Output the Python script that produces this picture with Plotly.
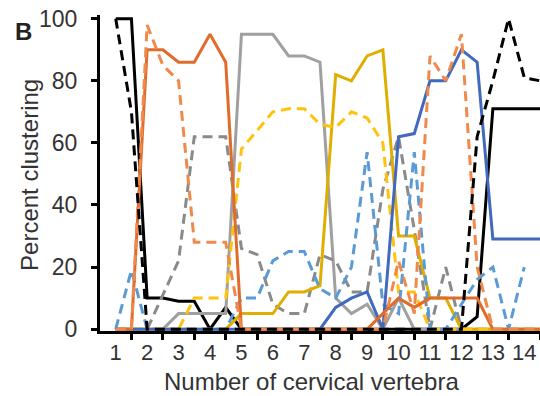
import plotly.graph_objects as go

# x positions (half-vertebra steps)
x_pos = [1, 1.5, 2, 2.5, 3, 3.5, 4, 4.5, 5, 5.5, 6, 6.5, 7, 7.5,
         8, 8.5, 9, 9.5, 10, 10.5, 11, 11.5, 12, 12.5, 13, 13.5, 14, 14.5]

x_tick_labels = [str(i) for i in range(1, 15)]
y_tick_vals = [0, 20, 40, 60, 80, 100]

black_solid = [100, 100, 10, 10, 9, 9, 0, 7, 0, 0, 0, 0, 0, 0,
               0, 0, 0, 0, 0, 0, 0, 0, 0, 4, 71, 71, 71, 71]
black_dashed = [100, 70, 0, 0, 0, 0, 0, 0, 0, 0, 0, 0, 0, 0,
                0, 0, 0, 0, 0, 0, 0, 0, 0, 62, 80, 100, 81, 80]
orange_solid = [0, 0, 90, 90, 86, 86, 95, 86, 0, 0, 0, 0, 0, 0,
                0, 0, 0, 5, 10, 7, 10, 10, 10, 10, 0, 0, 0, 0]
orange_dashed = [0, 0, 98, 85, 80, 28, 28, 28, 0, 0, 0, 0, 0, 0,
                 0, 0, 0, 0, 22, 5, 88, 80, 95, 20, 0, 0, 0, 0]
gray_solid = [0, 0, 0, 0, 5, 5, 5, 5, 95, 95, 95, 88, 88, 86,
              10, 5, 8, 0, 10, 0, 0, 0, 0, 0, 0, 0, 0, 0]
gray_dashed = [0, 0, 0, 11, 22, 62, 62, 62, 26, 24, 8, 5, 5, 24,
               22, 12, 12, 45, 62, 32, 0, 20, 0, 0, 0, 0, 0, 0]
yellow_solid = [0, 0, 0, 0, 0, 0, 0, 0, 5, 5, 5, 12, 12, 14,
                82, 80, 88, 90, 30, 30, 10, 10, 0, 0, 0, 0, 0, 0]
yellow_dashed = [0, 0, 0, 0, 0, 10, 10, 10, 58, 64, 70, 71, 71, 66,
                 65, 70, 68, 60, 12, 12, 0, 0, 0, 0, 0, 0, 0, 0]
lightblue_dashed = [0, 19, 0, 0, 0, 0, 0, 0, 10, 10, 22, 25, 25, 13,
                    10, 20, 57, 8, 5, 57, 0, 0, 8, 16, 20, 0, 20, None]
darkblue_solid = [0, 0, 0, 0, 0, 0, 0, 0, 0, 0, 0, 0, 0, 0,
                  7, 10, 12, 0, 62, 63, 80, 80, 90, 86, 29, 29, 29, 29]

DASH = "10px,6px"
series = [
    (black_solid, "#000000", "solid"),
    (gray_solid, "#A0A0A0", "solid"),
    (gray_dashed, "#8A8A8A", DASH),
    (yellow_solid, "#E0AE00", "solid"),
    (yellow_dashed, "#FFC20E", DASH),
    (lightblue_dashed, "#5B9BD5", DASH),
    (darkblue_solid, "#4169BE", "solid"),
    (orange_solid, "#E06C2C", "solid"),
    (orange_dashed, "#F08A4C", DASH),
    (black_dashed, "#000000", DASH),
]

fig = go.Figure()
for vals, color, dash in series:
    fig.add_trace(go.Scatter(x=x_pos, y=vals, mode="lines",
                             line=dict(color=color, width=3, dash=dash),
                             showlegend=False, hoverinfo="skip"))

font_family = "Liberation Sans, Arial, sans-serif"
txt_color = "#333333"

fig.update_layout(
    width=540, height=396,
    margin=dict(l=100, r=0, t=15, b=65),
    paper_bgcolor="white", plot_bgcolor="white",
    font=dict(family=font_family, color=txt_color),
    hovermode=False,
    xaxis=dict(
        range=[0.5, 14.5], showgrid=False, zeroline=False,
        showline=True, linecolor="black", linewidth=3,
        tickmode="array", tickvals=list(range(1, 15)), ticktext=x_tick_labels,
        ticks="outside", ticklen=0, tickwidth=0,
        minor=dict(tickmode="array", tickvals=[i + 0.5 for i in range(1, 15)],
                   ticks="outside", ticklen=6, tickwidth=3, tickcolor="black"),
        tickfont=dict(size=22, color=txt_color),
        layer="below traces",
    ),
    yaxis=dict(
        range=[-0.6, 101.2], showgrid=False, zeroline=False,
        showline=True, linecolor="black", linewidth=3,
        tickmode="array", tickvals=y_tick_vals,
        ticks="outside", ticklen=6, tickwidth=3, tickcolor="black",
        tickfont=dict(size=23, color=txt_color),
        ticklabelstandoff=9,
        layer="below traces",
    ),
    annotations=[
        dict(text="Percent clustering", xref="paper", yref="paper",
             x=-0.159, y=0.494, textangle=-90, showarrow=False,
             font=dict(size=24, color=txt_color), xanchor="center", yanchor="middle"),
        dict(text="Number of cervical vertebra", xref="paper", yref="paper",
             x=0.48, y=-0.161, showarrow=False,
             font=dict(size=24, color=txt_color), xanchor="center", yanchor="middle"),
        dict(text="<b>B</b>", xref="paper", yref="paper",
             x=-0.173, y=0.949, showarrow=False,
             font=dict(size=24, color="#222222"), xanchor="center", yanchor="middle"),
    ],
)

fig.write_html("out.html",
               config={"displayModeBar": False, "staticPlot": True},
               post_script="document.body.style.margin='0px';document.body.style.overflow='hidden';")
